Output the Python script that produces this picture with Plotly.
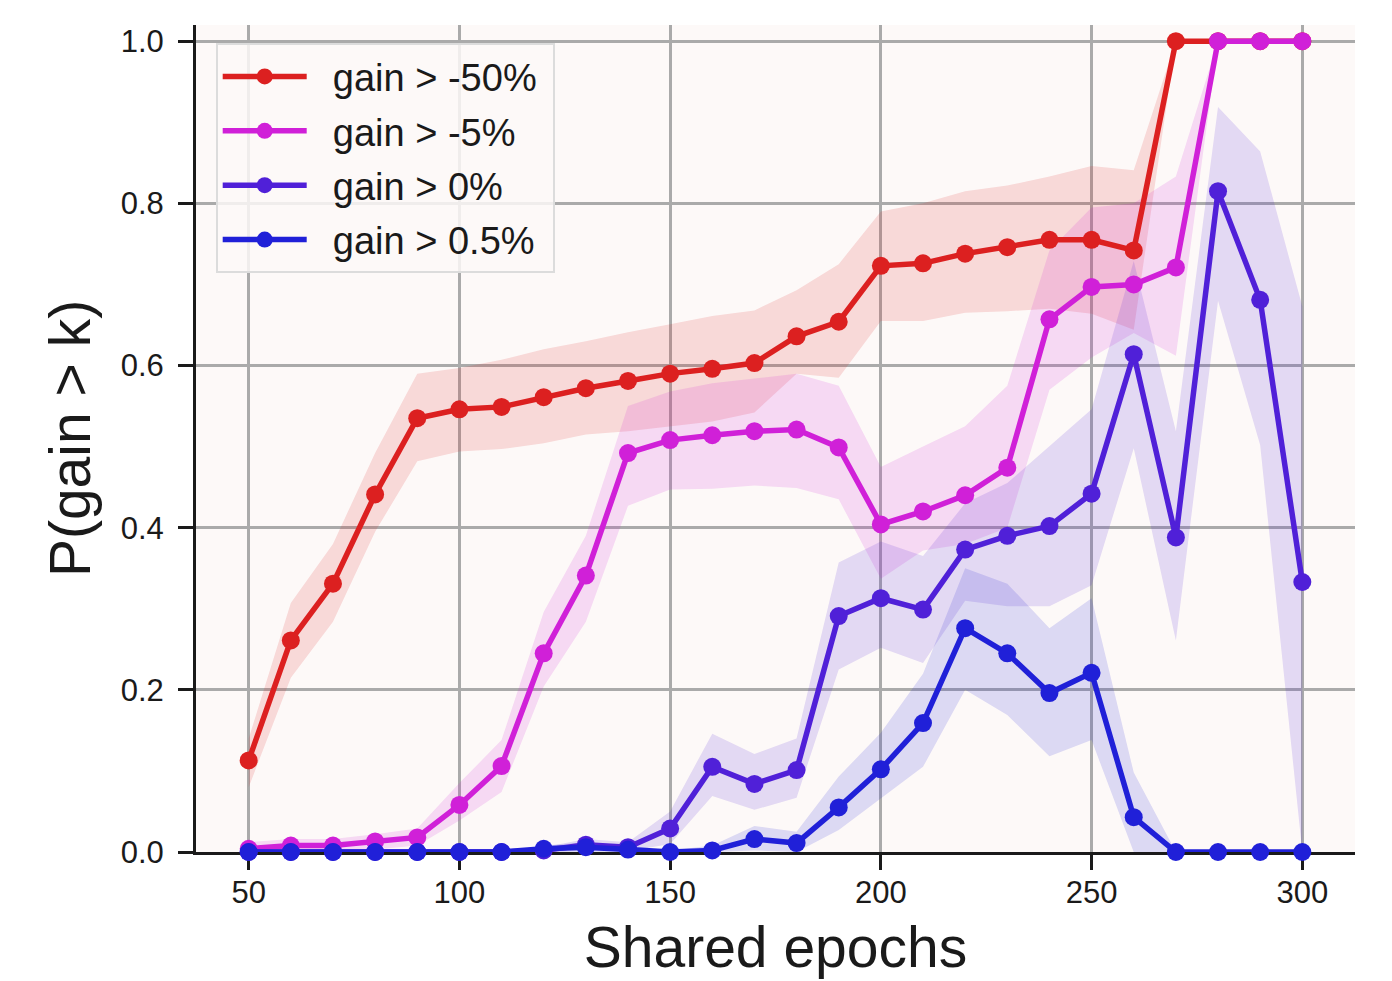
import plotly.graph_objects as go

epochs = list(range(50, 301, 10))

red = [0.113, 0.261, 0.331, 0.441, 0.535, 0.546, 0.549, 0.561, 0.572, 0.581, 0.590, 0.596, 0.603,
       0.636, 0.654, 0.723, 0.726, 0.738, 0.746, 0.755, 0.755, 0.742, 1.0, 1.0, 1.0, 1.0]
red_lo = [0.080, 0.215, 0.284, 0.395, 0.482, 0.494, 0.497, 0.504, 0.515, 0.519, 0.525, 0.531, 0.542,
          0.590, 0.585, 0.655, 0.655, 0.665, 0.667, 0.670, 0.664, 0.644, 1.0, 1.0, 1.0, 1.0]
red_hi = [0.140, 0.307, 0.380, 0.492, 0.590, 0.597, 0.607, 0.620, 0.630, 0.641, 0.651, 0.661, 0.668,
          0.693, 0.725, 0.790, 0.800, 0.815, 0.822, 0.833, 0.846, 0.841, 1.0, 1.0, 1.0, 1.0]

mag = [0.004, 0.008, 0.008, 0.013, 0.018, 0.058, 0.106, 0.245, 0.341, 0.492, 0.508, 0.514, 0.519,
       0.521, 0.499, 0.404, 0.420, 0.440, 0.474, 0.657, 0.697, 0.700, 0.721, 1.0, 1.0, 1.0]
mag_lo = [0.0, 0.0, 0.0, 0.003, 0.008, 0.039, 0.074, 0.204, 0.284, 0.427, 0.447, 0.448, 0.452,
          0.449, 0.435, 0.337, 0.372, 0.380, 0.400, 0.570, 0.610, 0.640, 0.612, 1.0, 1.0, 1.0]
mag_hi = [0.012, 0.016, 0.016, 0.022, 0.029, 0.085, 0.138, 0.296, 0.390, 0.550, 0.568, 0.578, 0.584,
          0.590, 0.575, 0.475, 0.500, 0.525, 0.575, 0.742, 0.795, 0.800, 0.833, 1.0, 1.0, 1.0]

pur = [0.0, 0.0, 0.0, 0.0, 0.0, 0.0, 0.0, 0.002, 0.009, 0.006, 0.029, 0.105, 0.084,
       0.101, 0.291, 0.313, 0.299, 0.373, 0.390, 0.402, 0.442, 0.614, 0.388, 0.815, 0.681, 0.333]
pur_lo = [0.0, 0.0, 0.0, 0.0, 0.0, 0.0, 0.0, 0.0, 0.002, 0.001, 0.010, 0.069, 0.052,
          0.067, 0.225, 0.252, 0.233, 0.310, 0.303, 0.303, 0.329, 0.498, 0.261, 0.680, 0.502, 0.0]
pur_hi = [0.0, 0.0, 0.0, 0.0, 0.0, 0.0, 0.002, 0.006, 0.016, 0.012, 0.050, 0.146, 0.121,
          0.140, 0.357, 0.383, 0.365, 0.430, 0.455, 0.500, 0.546, 0.729, 0.519, 0.919, 0.864, 0.673]

blu = [0.0, 0.0, 0.0, 0.0, 0.0, 0.0, 0.0, 0.004, 0.006, 0.003, 0.0, 0.002, 0.016,
       0.011, 0.055, 0.102, 0.159, 0.276, 0.245, 0.196, 0.221, 0.043, 0.0, 0.0, 0.0, 0.0]
blu_lo = [0.0, 0.0, 0.0, 0.0, 0.0, 0.0, 0.0, 0.0, 0.0, 0.0, 0.0, 0.0, 0.002,
          0.0, 0.027, 0.066, 0.105, 0.200, 0.169, 0.118, 0.138, 0.0, 0.0, 0.0, 0.0, 0.0]
blu_hi = [0.0, 0.0, 0.0, 0.0, 0.0, 0.0, 0.0, 0.008, 0.012, 0.008, 0.002, 0.008, 0.032,
          0.025, 0.093, 0.147, 0.220, 0.350, 0.331, 0.276, 0.313, 0.098, 0.0, 0.0, 0.0, 0.0]

names = ["gain > -50%", "gain > -5%", "gain > 0%", "gain > 0.5%"]
colors = [(220, 32, 32), (208, 32, 216), (80, 32, 216), (32, 32, 216)]
series = [(red, red_lo, red_hi), (mag, mag_lo, mag_hi), (pur, pur_lo, pur_hi), (blu, blu_lo, blu_hi)]

FONT = "Liberation Sans, Arial, Helvetica, sans-serif"
TXT = "#1a1a1a"

fig = go.Figure()

for (y, lo, hi), c in zip(series, colors):
    fig.add_trace(go.Scatter(
        x=epochs + epochs[::-1], y=hi + lo[::-1], fill="toself", mode="lines",
        line=dict(width=0), fillcolor="rgba(%d,%d,%d,0.15)" % c,
        hoverinfo="skip", showlegend=False))

for i, ((y, lo, hi), c, n) in enumerate(zip(series, colors, names)):
    fig.add_trace(go.Scatter(
        x=epochs, y=y, mode="lines+markers", name="\u00a0\u00a0" + n + "\u00a0",
        line=dict(color="rgb(%d,%d,%d)" % c, width=5.5),
        marker=dict(size=18, color="rgb(%d,%d,%d)" % c),
        cliponaxis=False, legendgroup="g%d" % i))

fig.update_layout(
    width=1392, height=981,
    margin=dict(l=196, r=37, t=25, b=129),
    paper_bgcolor="white", plot_bgcolor="rgb(253,249,248)",
    font=dict(family=FONT, color=TXT),
    showlegend=True,
    legend=dict(
        x=0.017, y=0.978, xanchor="left", yanchor="top",
        bgcolor="rgba(253,249,248,0.85)", bordercolor="rgb(220,220,220)", borderwidth=2,
        font=dict(size=38, family=FONT, color=TXT),
        itemwidth=84, tracegroupgap=2,
    ),
    xaxis=dict(
        range=[37.5, 312.5], tickvals=[50, 100, 150, 200, 250, 300],
        showgrid=True, gridcolor="rgb(170,170,170)", gridwidth=2.5,
        showline=True, linecolor=TXT, linewidth=3,
        ticks="outside", ticklen=15, tickwidth=3, tickcolor=TXT,
        tickfont=dict(size=31, family=FONT, color=TXT), ticklabelstandoff=-4,
        zeroline=False, layer="below traces", automargin=False,
        title=dict(text="Shared epochs", font=dict(size=57, family=FONT, color=TXT), standoff=18),
    ),
    yaxis=dict(
        range=[0, 1.02], tickvals=[0, 0.2, 0.4, 0.6, 0.8, 1.0], tickformat=".1f",
        showgrid=True, gridcolor="rgb(170,170,170)", gridwidth=2.5,
        showline=True, linecolor=TXT, linewidth=3,
        ticks="outside", ticklen=15, tickwidth=3, tickcolor=TXT,
        tickfont=dict(size=31, family=FONT, color=TXT), ticklabelstandoff=8,
        zeroline=False, layer="below traces", automargin=False,
        title=dict(text="P(gain > k)", font=dict(size=57, family=FONT, color=TXT), standoff=12),
    ),
)

fig.write_html("out.html")
